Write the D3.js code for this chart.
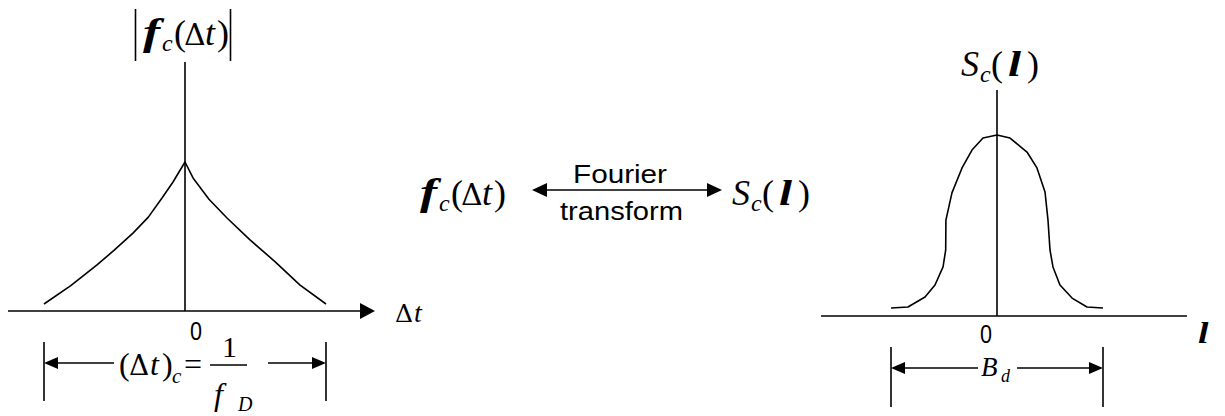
<!DOCTYPE html>
<html>
<head>
<meta charset="utf-8">
<script src="https://cdn.jsdelivr.net/npm/d3@7/dist/d3.min.js"></script>
<style>
  html, body { margin: 0; padding: 0; background: #fff; }
  svg { display: block; }
</style>
</head>
<body>
<svg id="chart" width="1225" height="416"></svg>
<script>
// Autocorrelation magnitude |f_c(Δt)| versus time lag (normalised to the coherence time)
const corrLag   = [-1, -0.81, -0.624, -0.5, -0.369, -0.26, -0.163, -0.085, 0, 0.057, 0.17, 0.298, 0.461, 0.64, 0.816, 1];
const corrValue = [0.047, 0.17, 0.309, 0.41, 0.523, 0.63, 0.758, 0.866, 1, 0.893, 0.75, 0.624, 0.477, 0.33, 0.174, 0.047];

// Doppler power spectrum S_c(l) versus frequency (normalised to the Doppler spread)
const specFreq  = [-1, -0.84, -0.679, -0.585, -0.509, -0.484, -0.482, -0.425, -0.33, -0.236, -0.132, 0, 0.123, 0.283, 0.377, 0.453, 0.481, 0.5, 0.528, 0.594, 0.708, 0.849, 1];
const specValue = [0.044, 0.05, 0.105, 0.171, 0.271, 0.365, 0.53, 0.68, 0.818, 0.917, 0.983, 1, 0.983, 0.906, 0.818, 0.685, 0.53, 0.365, 0.271, 0.171, 0.099, 0.05, 0.044];

// Tick labels and captions
const zeroTick = ["0"];
const fourierCaption = ["Fourier", "transform"];

const svg = d3.select("#chart");
const ink = "#000";
const lw = 1.6;
const mathFont = "Liberation Serif";
const greekFont = "DejaVu Serif";   // Liberation Serif has no Greek capital delta
const labelFont = "Liberation Sans";

// ---- scales ----
const xL = d3.scaleLinear().domain([-1, 1]).range([44, 326]);
const yL = d3.scaleLinear().domain([0, 1]).range([311, 162]);
const xR = d3.scaleLinear().domain([-1, 1]).range([891, 1103]);
const yR = d3.scaleLinear().domain([0, 1]).range([316, 135]);

function line(g, x1, y1, x2, y2) {
  g.append("line").attr("x1", x1).attr("y1", y1).attr("x2", x2).attr("y2", y2)
    .attr("stroke", ink).attr("stroke-width", lw);
}
// filled triangular arrowhead; dir = +1 points right, -1 points left
function head(g, tipX, y, dir, len, half) {
  const b = tipX - dir * len;
  g.append("path").attr("d", `M${tipX},${y}L${b},${y - half}L${b},${y + half}Z`).attr("fill", ink);
}
// math-style text: every glyph run is its own <text>, placed relative to (x0, y0)
// seg = {t, s:'bi'|'i'|'r'|'g', dx, dy, size, sx (horizontal stretch)}
function math(g, x0, y0, segs, base) {
  segs.forEach(sg => {
    const x = x0 + (sg.dx || 0), y = y0 + (sg.dy || 0);
    const fam = sg.s === "g" ? greekFont : mathFont;
    const el = g.append("text").text(sg.t)
      .attr("font-family", fam)
      .attr("font-size", sg.size || base).attr("fill", ink)
      .attr("transform", `translate(${x},${y}) scale(${sg.sx || 1},1)`);
    if (sg.s === "bi" || sg.s === "i") el.attr("font-style", "italic");
    if (sg.s === "bi") el.attr("font-weight", "bold");
  });
}
// condensed sans label squeezed to a given width
function narrowText(g, x, y, str, size, width) {
  return g.append("text").attr("x", x).attr("y", y)
    .attr("font-family", labelFont).attr("font-size", size).attr("fill", ink)
    .attr("textLength", width).attr("lengthAdjust", "spacingAndGlyphs").text(str);
}
// f_c(Δt) and S_c(l) as glyph runs
const fcDt = [
  { t: "f", s: "bi", dx: 4, size: 38, sx: 1.35 },
  { t: "c", s: "i", dx: 23, dy: 6, size: 24 },
  { t: "(", s: "r", dx: 35 },
  { t: "Δ", s: "g", dx: 45, size: 30 },
  { t: "t", s: "i", dx: 66 },
  { t: ")", s: "r", dx: 78 }
];
const ScL = [
  { t: "S", s: "i", dx: 0 },
  { t: "c", s: "i", dx: 19, dy: 6, size: 24 },
  { t: "(", s: "r", dx: 30 },
  { t: "l", s: "bi", dx: 47, sx: 1.3 },
  { t: ")", s: "r", dx: 66 }
];

// ================= left panel: correlation =================
const gL = svg.append("g");
line(gL, 8, yL(0), 362, yL(0));
head(gL, 375, yL(0), 1, 15, 8);
line(gL, xL(0), 62, xL(0), yL(0));

gL.append("path")
  .datum(d3.zip(corrLag, corrValue))
  .attr("d", d3.line().x(d => xL(d[0])).y(d => yL(d[1])))
  .attr("fill", "none").attr("stroke", ink).attr("stroke-width", lw).attr("stroke-linejoin", "round");

// y-axis title |f_c(Δt)|
line(gL, 135.5, 9, 135.5, 61);
line(gL, 230.5, 9, 230.5, 61);
math(gL, 139, 45, fcDt, 36);

// x-axis title Δt
math(gL, 395, 322, [{ t: "Δ", s: "g", size: 25 }, { t: "t", s: "i", dx: 19 }], 28);

narrowText(gL, 190, 340, zeroTick[0], 25, 12);

// coherence-time dimension
line(gL, xL(-1), 342, xL(-1), 401);
line(gL, xL(1), 342, xL(1), 401);
line(gL, xL(-1) + 10, 363, 114, 363);
head(gL, xL(-1), 363, -1, 14, 6);
line(gL, 268, 363, xL(1) - 10, 363);
head(gL, xL(1), 363, 1, 14, 6);
math(gL, 119, 375, [
  { t: "(", s: "r" },
  { t: "Δ", s: "g", dx: 10, size: 28 },
  { t: "t", s: "i", dx: 31 },
  { t: ")", s: "r", dx: 43 },
  { t: "c", s: "i", dx: 53, dy: 8, size: 21 },
  { t: "=", s: "r", dx: 65 }
], 32);
line(gL, 210, 365, 247, 365);
math(gL, 222, 357, [{ t: "1", s: "r" }], 30);
math(gL, 214, 405, [
  { t: "f", s: "i", size: 32 },
  { t: "D", s: "i", dx: 24, dy: 6, size: 20 }
], 31);

// ================= middle: transform pair =================
const gM = svg.append("g");
math(gM, 416, 205, fcDt, 36);
line(gM, 545, 190, 709, 190);
head(gM, 532, 190, -1, 15, 7);
head(gM, 722, 190, 1, 15, 7);
narrowText(gM, 573, 183, fourierCaption[0], 26, 94);
narrowText(gM, 560, 220, fourierCaption[1], 26, 123);
math(gM, 732, 205, ScL, 36);

// ================= right panel: Doppler spectrum =================
const gR = svg.append("g");
line(gR, 821, yR(0), 1187, yR(0));
line(gR, xR(0), 90, xR(0), yR(0));
gR.append("path")
  .datum(d3.zip(specFreq, specValue))
  .attr("d", d3.line().x(d => xR(d[0])).y(d => yR(d[1])))
  .attr("fill", "none").attr("stroke", ink).attr("stroke-width", lw).attr("stroke-linejoin", "round");

math(gR, 961, 76, ScL, 36);
math(gR, 1198, 343, [{ t: "l", s: "bi", sx: 1.3 }], 29);
narrowText(gR, 980, 343, zeroTick[0], 25, 12);

// Doppler-spread dimension
line(gR, xR(-1), 347, xR(-1), 407);
line(gR, xR(1), 347, xR(1), 407);
line(gR, xR(-1) + 10, 368, 978, 368);
head(gR, xR(-1), 368, -1, 14, 6);
line(gR, 1017, 368, xR(1) - 10, 368);
head(gR, xR(1), 368, 1, 14, 6);
math(gR, 981, 376, [
  { t: "B", s: "i" },
  { t: "d", s: "i", dx: 20, dy: 6, size: 18 }
], 27);
</script>
</body>
</html>
